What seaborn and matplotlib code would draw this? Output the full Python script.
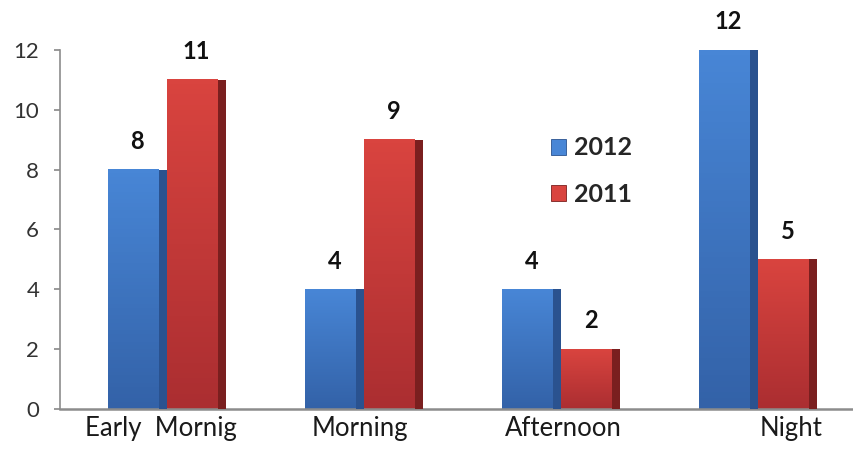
import numpy as np
import pandas as pd
import seaborn as sns
import matplotlib.pyplot as plt
from matplotlib.colors import to_rgb
from matplotlib.patches import Rectangle, Patch
from matplotlib.transforms import ScaledTranslation

categories = ["Early  Mornig", "Morning", "Afternoon", "Night"]
years = ["2012", "2011"]
values_2012 = [8, 4, 4, 12]
values_2011 = [11, 9, 2, 5]

# 颜色: 正面上/下渐变 + 侧面深色
face_top = {"2012": "#4886d6", "2011": "#d9443f"}
face_bot = {"2012": "#3362a8", "2011": "#ab2e31"}
side_col = {"2012": "#2a528f", "2011": "#7a1f1f"}

sns.set_theme(style="white")
plt.rcParams['font.family'] = ['Lato', 'DejaVu Sans']

df = pd.DataFrame({
    "cat": categories * 2,
    "year": [years[0]] * len(categories) + [years[1]] * len(categories),
    "value": values_2012 + values_2011,
})

fig = plt.figure(figsize=(8.54, 4.70), dpi=100)
ax = fig.add_axes([60 / 854, 61 / 470, 1 - 60 / 854, 359 / 470])

sns.barplot(data=df, x="cat", y="value", hue="year", hue_order=years,
            order=categories, width=0.6, palette=[face_top[y] for y in years],
            legend=False, ax=ax, zorder=2)

# 伪3D效果: 渐变正面 + 右侧深色条
for year, container in zip(years, ax.containers):
    for bar in container:
        x0, y0 = bar.get_x(), bar.get_y()
        w, h = bar.get_width(), bar.get_height()
        side = w * 0.14
        grad = np.linspace(0, 1, 64).reshape(-1, 1)
        c1 = np.array(to_rgb(face_bot[year]))
        c2 = np.array(to_rgb(face_top[year]))
        img = c1 + (c2 - c1) * grad[..., None]
        ax.imshow(img, extent=(x0, x0 + w - side, y0, y0 + h),
                  origin="lower", aspect="auto", zorder=2.5)
        ax.add_patch(Rectangle((x0 + w - side, y0), side, h,
                               color=side_col[year], lw=0, zorder=2.6))
        ax.annotate(f"{h:.0f}", (x0 + w / 2, y0 + h), xytext=(0, 12),
                    textcoords="offset points", ha="center", va="bottom",
                    fontsize=17, fontweight="bold", color="#111111")

ax.set_xlim(-0.543, 3.487)
ax.set_ylim(0, 12)
ax.set_yticks(range(0, 13, 2))
ax.set_xlabel("")
ax.set_ylabel("")

for s in ["top", "right"]:
    ax.spines[s].set_visible(False)
ax.spines["left"].set_color("#8c8c8c")
ax.spines["bottom"].set_color("#8c8c8c")
ax.spines["left"].set_linewidth(1.2)
ax.spines["bottom"].set_linewidth(1.8)

ax.tick_params(axis="y", left=True, length=4, color="#8c8c8c",
               labelsize=16, labelcolor="#333333", pad=11)
ax.tick_params(axis="x", length=0, labelsize=18.5, labelcolor="#1a1a1a", pad=5)

# 类别标签的细微偏移 (像素)
offsets = [-6, -4, 2, 33]
for lbl, dx in zip(ax.get_xticklabels(), offsets):
    lbl.set_transform(lbl.get_transform() + ScaledTranslation(dx / 100, 0, fig.dpi_scale_trans))

handles = [Patch(facecolor=face_top[y], edgecolor=side_col[y], lw=0.6) for y in years]
ax.legend(handles, years, loc="upper left", bbox_to_anchor=(538 / 854, 1 - 124 / 470),
          bbox_transform=fig.transFigure, frameon=False,
          prop={"weight": "bold", "size": 18}, handlelength=0.6, handleheight=0.6,
          handletextpad=0.35, labelspacing=0.95, borderpad=0)

fig.savefig("out.png", dpi=100)
